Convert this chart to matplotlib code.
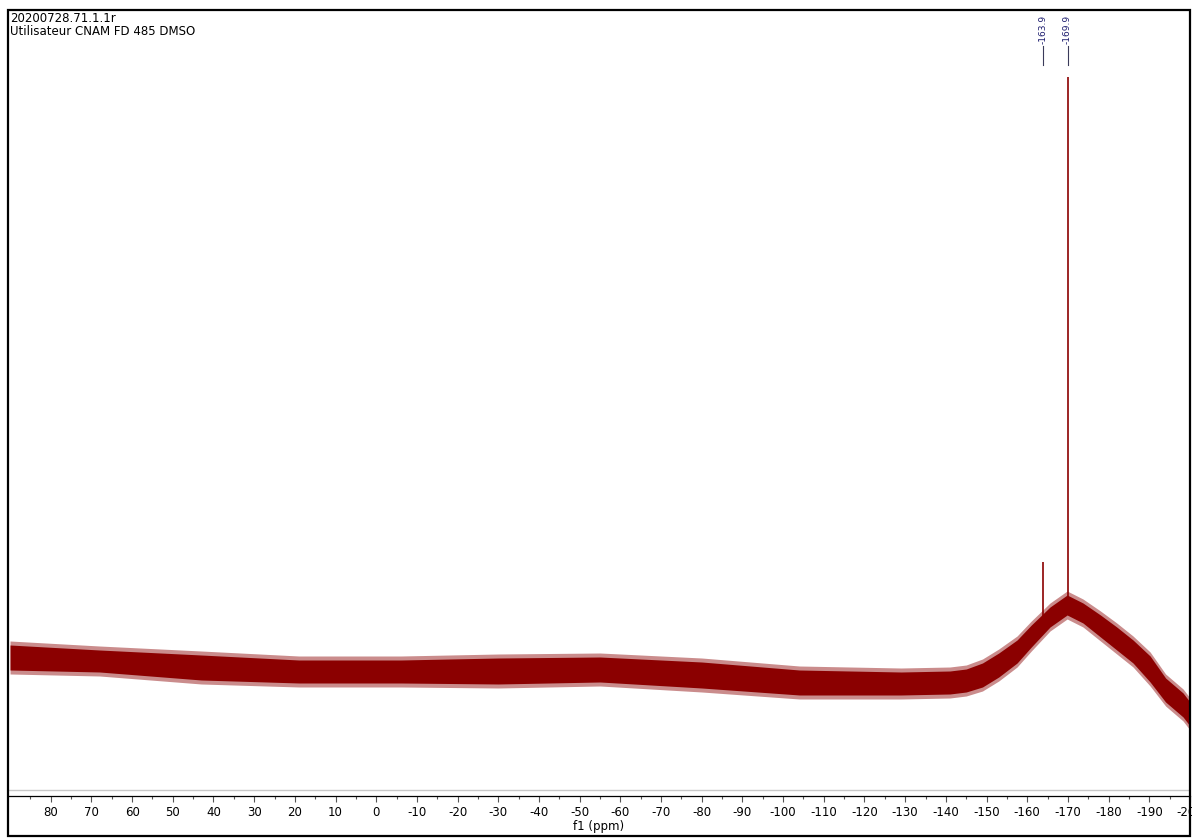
import matplotlib.pyplot as plt
from matplotlib.patches import Rectangle
from matplotlib.transforms import blended_transform_factory

plt.rcParams['font.family'] = 'DejaVu Sans'
plt.rcParams['axes.unicode_minus'] = False

# noisy baseline: band edges (intensity, arbitrary units)
ppm = [90, 68, 43, 19, -6, -30, -55, -80, -104, -129, -141, -145, -149, -153,
       -157.5, -161, -165.6, -169.8, -173.7, -178, -182, -186, -190.2, -194,
       -198.3, -200]
band_top = [151, 146, 141, 136, 136, 138, 139, 134, 126, 124, 125, 127, 133, 143,
            156, 171, 189, 201, 193, 181, 169, 156, 140, 118, 103, 94]
band_bot = [126, 124, 116, 113, 113, 112, 114, 108, 101, 101, 102, 104, 109, 119,
            133, 149, 169, 181, 173, 159, 146, 133, 114, 94, 79, 70]

peaks = [-163.9, -169.9]
peak_tops = [234, 719]
peak_labels = ['-163.9', '-169.9']

ticks = list(range(80, -201, -10))
tick_labels = [str(t) for t in ticks]

W, H = 1192, 838
fig = plt.figure(figsize=(W / 100, H / 100), dpi=100)
ax = fig.add_axes([8 / W, (H - 796) / H, (1190 - 8) / W, (796 - 10) / H])

red = '#8b0000'
outer_top = [v + 4 for v in band_top]
outer_bot = [v - 4 for v in band_bot]
ax.fill_between(ppm, outer_bot, outer_top, color=red, alpha=0.45, lw=0)
ax.fill_between(ppm, band_bot, band_top, color=red, lw=0)

for p, top in zip(peaks, peak_tops):
    i = min(range(len(ppm)), key=lambda k: abs(ppm[k] - p))
    base = (band_top[i] + band_bot[i]) / 2
    ax.vlines(p, base, top, color=red, lw=1.2)

ax.set_xlim(90.5, -200)
ax.set_ylim(0, 786)

trans = blended_transform_factory(ax.transData, ax.transAxes)
for p, lab in zip(peaks, peak_labels):
    ax.plot([p, p], [(796 - 65) / 786, (796 - 46) / 786], color='#3a3a5a',
            lw=0.8, transform=trans)
    ax.text(p, (796 - 44) / 786, lab, rotation=90, ha='center', va='bottom',
            fontsize=6.5, color='#1c1c6e', transform=trans)

# thin grey line just above the axis
ax.plot([0, 1], [6 / 786, 6 / 786], color='#c8c8c8', lw=1, transform=ax.transAxes)

ax.set_xticks(ticks)
ax.set_xticklabels(tick_labels, fontsize=8.5)
ax.set_xticks(range(85, -200, -10), minor=True)
ax.tick_params(axis='x', which='major', length=4, width=0.8, color='#555555', pad=3)
ax.tick_params(axis='x', which='minor', length=2.5, width=0.8, color='#555555')
ax.set_yticks([])
ax.set_xlabel('f1 (ppm)', fontsize=8.5, labelpad=1)

for s in ['left', 'top', 'right']:
    ax.spines[s].set_visible(False)
ax.spines['bottom'].set_linewidth(0.9)

fig.patches.append(Rectangle((8 / W, 2 / H), (1190 - 8) / W, (836 - 10) / H,
                             fill=False, lw=1.6, edgecolor='black',
                             transform=fig.transFigure))

fig.text(10 / W, 1 - 12 / H, '20200728.71.1.1r', fontsize=8.5, va='top')
fig.text(10 / W, 1 - 25 / H, 'Utilisateur CNAM FD 485 DMSO', fontsize=8.5, va='top')

fig.savefig('out.png', dpi=100)
